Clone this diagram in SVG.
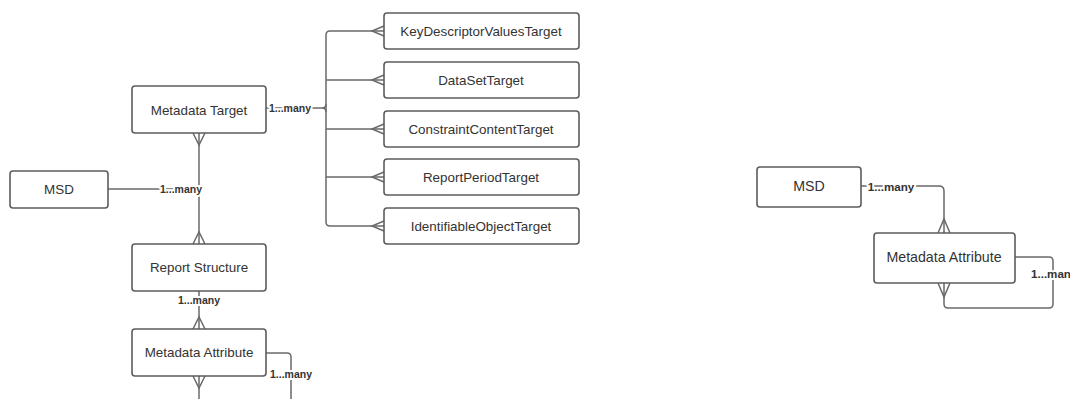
<svg xmlns="http://www.w3.org/2000/svg" width="1070" height="399" viewBox="0 0 1070 399">
<style>
.box{fill:#fff;stroke:#5c5c5c;stroke-width:1.6}
.t{font-family:"Liberation Sans",Arial,sans-serif;font-size:13.4px;fill:#333;text-anchor:middle;dominant-baseline:central}
.t2{font-size:14.2px}
.ln{fill:none;stroke:#6a6a6a;stroke-width:1.5}
.lb{font-family:"Liberation Sans",Arial,sans-serif;font-size:10.5px;font-weight:bold;fill:#333;text-anchor:middle;dominant-baseline:central;paint-order:stroke;stroke:#fff;stroke-width:4px;stroke-linejoin:round}
.lb2{font-size:11.6px}
.st{text-anchor:start}
</style>
<rect width="1070" height="399" fill="#fff"/>
<g id="connectors">
  <path class="ln" d="M108 189 H199"/>
  <path class="ln" d="M199 133 V244"/>
  <path class="ln" d="M193 133 L199 145 L205 133"/>
  <path class="ln" d="M193 244 L199 232 L205 244"/>
  <path class="ln" d="M199 291 V329"/>
  <path class="ln" d="M193 329 L199 317 L205 329"/>
  <path class="ln" d="M199 376 V399"/>
  <path class="ln" d="M193 376 L199 388 L205 376"/>
  <path class="ln" d="M266 353 H287 Q291 353 291 357 V399"/>
  <path class="ln" d="M266 108 H322 Q326 108 326 104 M326 112 Q326 108 322 108"/>
  <path class="ln" d="M384 31 H330 Q326 31 326 35 V222 Q326 226 330 226 H384"/>
  <path class="ln" d="M326 80 H384 M326 129 H384 M326 177 H384"/>
  <path class="ln" d="M384 26 L372 31 L384 36"/>
  <path class="ln" d="M384 75 L372 80 L384 85"/>
  <path class="ln" d="M384 124 L372 129 L384 134"/>
  <path class="ln" d="M384 172 L372 177 L384 182"/>
  <path class="ln" d="M384 221 L372 226 L384 231"/>
  <path class="ln" d="M861 186 H939 Q944 186 944 191 V233"/>
  <path class="ln" d="M938 233 L944 219 L950 233"/>
  <path class="ln" d="M1015 257 H1049 Q1053 257 1053 261 V304 Q1053 308 1049 308 H948 Q944 308 944 304 V283"/>
  <path class="ln" d="M938 283 L944 297 L950 283"/>
  <text class="lb" x="181" y="189">1...many</text>
  <text class="lb" x="290" y="108">1...many</text>
  <text class="lb" x="199" y="300">1...many</text>
  <text class="lb" x="291" y="374">1...many</text>
  <text class="lb lb2" x="891" y="186">1...many</text>
  <text class="lb lb2 st" x="1031" y="273">1...man</text>
</g>
<g id="msd-left"><rect class="box" x="10" y="171" width="98" height="37" rx="3"/><text class="t" x="59" y="189">MSD</text></g>
<g id="metadata-target"><rect class="box" x="132" y="86" width="134" height="47" rx="3"/><text class="t" x="199" y="110">Metadata Target</text></g>
<g id="report-structure"><rect class="box" x="132" y="244" width="134" height="47" rx="3"/><text class="t" x="199" y="267">Report Structure</text></g>
<g id="metadata-attribute-left"><rect class="box" x="132" y="329" width="134" height="47" rx="3"/><text class="t" x="199" y="352">Metadata Attribute</text></g>
<g id="keydescriptor"><rect class="box" x="384" y="13" width="195" height="36" rx="3"/><text class="t" x="481" y="31">KeyDescriptorValuesTarget</text></g>
<g id="dataset"><rect class="box" x="384" y="62" width="195" height="36" rx="3"/><text class="t" x="481" y="80">DataSetTarget</text></g>
<g id="constraint"><rect class="box" x="384" y="111" width="195" height="36" rx="3"/><text class="t" x="481" y="129">ConstraintContentTarget</text></g>
<g id="reportperiod"><rect class="box" x="384" y="159" width="195" height="36" rx="3"/><text class="t" x="481" y="177">ReportPeriodTarget</text></g>
<g id="identifiable"><rect class="box" x="384" y="208" width="195" height="36" rx="3"/><text class="t" x="481" y="226">IdentifiableObjectTarget</text></g>
<g id="msd-right"><rect class="box" x="757" y="167" width="104" height="40" rx="3"/><text class="t t2" x="809" y="186">MSD</text></g>
<g id="metadata-attribute-right"><rect class="box" x="874" y="233" width="141" height="50" rx="3"/><text class="t t2" x="944" y="257">Metadata Attribute</text></g>
</svg>
